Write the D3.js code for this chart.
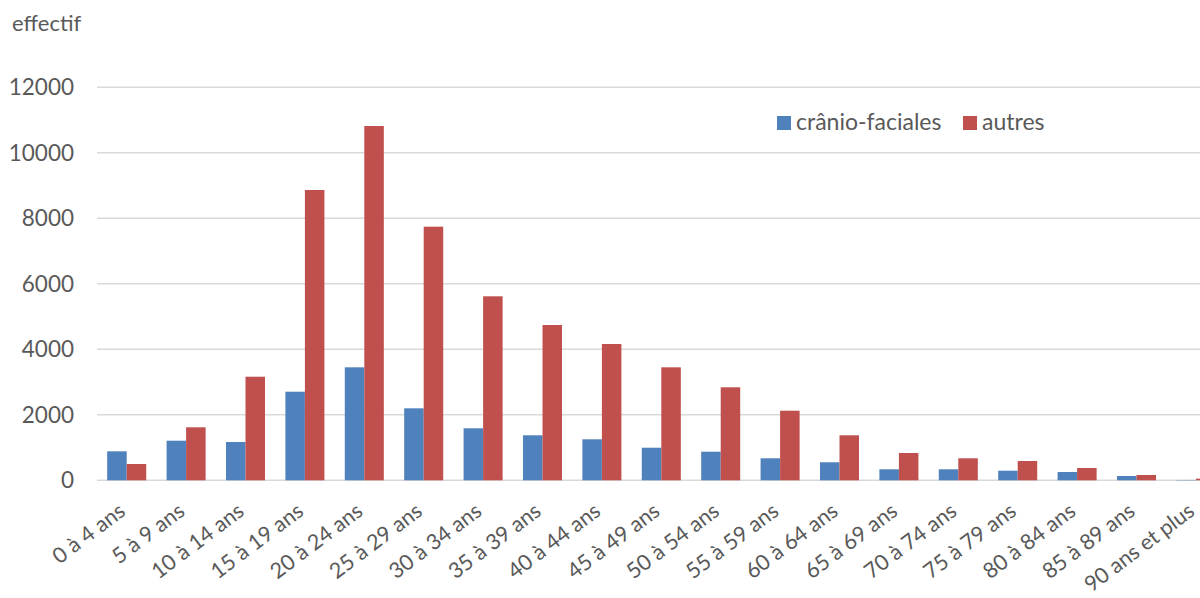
<!DOCTYPE html>
<html>
<head>
<meta charset="utf-8">
<script src="https://cdn.jsdelivr.net/npm/d3@7"></script>
<style>
  html, body { margin: 0; padding: 0; background: #ffffff; }
  svg { display: block; }
  text { font-family: Lato, "Open Sans", sans-serif; fill: #595959; }
</style>
</head>
<body>
<svg id="chart" width="1200" height="598"></svg>
<script>
// Age groups
const categories = [
  "0 à 4 ans", "5 à 9 ans", "10 à 14 ans", "15 à 19 ans", "20 à 24 ans",
  "25 à 29 ans", "30 à 34 ans", "35 à 39 ans", "40 à 44 ans", "45 à 49 ans",
  "50 à 54 ans", "55 à 59 ans", "60 à 64 ans", "65 à 69 ans", "70 à 74 ans",
  "75 à 79 ans", "80 à 84 ans", "85 à 89 ans", "90 ans et plus"
];
const seriesNames = ["crânio-faciales", "autres"];
const cranioFaciales = [885, 1209, 1169, 2705, 3450, 2198, 1588, 1374, 1252, 995, 873, 672, 550, 336, 336, 293, 253, 131, 10];
const autres = [498, 1618, 3163, 8864, 10818, 7744, 5618, 4742, 4162, 3450, 2840, 2125, 1374, 834, 672, 589, 376, 162, 50];
const yTicks = [0, 2000, 4000, 6000, 8000, 10000, 12000];
const colors = ["#4F81BD", "#C0504D"];

const rows = categories.map((c, i) => ({ cat: c, values: [cranioFaciales[i], autres[i]] }));

const svg = d3.select("#chart");
const left = 97, step = 59.4;
const x0 = d3.scaleBand()
  .domain(categories)
  .range([left, left + step * categories.length])
  .paddingInner(0.343)
  .paddingOuter(0.1715);
const x1 = d3.scaleBand().domain([0, 1]).range([0, x0.bandwidth()]);
const y = d3.scaleLinear().domain([0, 12000]).range([480.3, 87.3]);

// Horizontal gridlines
svg.append("g").selectAll("line").data(yTicks).join("line")
  .attr("x1", left).attr("x2", 1200)
  .attr("y1", d => y(d)).attr("y2", d => y(d))
  .attr("stroke", "#d9d9d9").attr("stroke-width", 1.5);

// Y tick labels
svg.append("g").selectAll("text").data(yTicks).join("text")
  .attr("x", 74).attr("y", d => y(d))
  .attr("dy", "0.36em")
  .attr("text-anchor", "end")
  .attr("font-size", 22.5)
  .text(d => d);

// Y axis title
svg.append("text").attr("x", 12).attr("y", 31)
  .attr("font-size", 22).text("effectif");

// Bars
const groups = svg.append("g").selectAll("g").data(rows).join("g")
  .attr("transform", d => `translate(${x0(d.cat)},0)`);
groups.selectAll("rect").data(d => d.values.map((v, k) => ({ v, k }))).join("rect")
  .attr("x", d => x1(d.k))
  .attr("width", x1.bandwidth())
  .attr("y", d => y(d.v))
  .attr("height", d => y(0) - y(d.v))
  .attr("fill", d => colors[d.k]);

// Category labels, rotated
svg.append("g").selectAll("text").data(categories).join("text")
  .attr("transform", d => `translate(${x0(d) + x0.bandwidth() / 2},${514}) rotate(-37)`)
  .attr("text-anchor", "end")
  .attr("font-size", 21.5)
  .text(d => d);

// Legend
const legend = svg.append("g");
const legendX = [777, 963];
seriesNames.forEach((name, k) => {
  legend.append("rect").attr("x", legendX[k]).attr("y", 116)
    .attr("width", 14).attr("height", 14).attr("fill", colors[k]);
  legend.append("text").attr("x", legendX[k] + 19).attr("y", 130)
    .attr("font-size", 23).text(name);
});
</script>
</body>
</html>
